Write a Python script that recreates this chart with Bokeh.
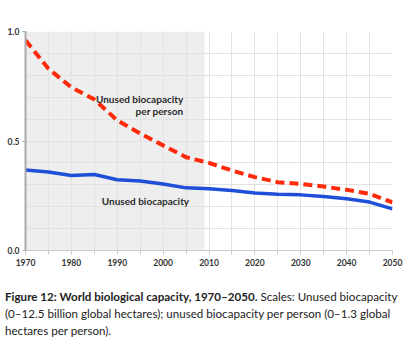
from bokeh.plotting import figure
from bokeh.models import FixedTicker, BoxAnnotation, Label, Div, CustomJSTickFormatter
from bokeh.layouts import column
from bokeh.embed import file_html
from bokeh.resources import INLINE

years = [1970, 1975, 1980, 1985, 1990, 1995, 2000, 2005, 2010,
         2015, 2020, 2025, 2030, 2035, 2040, 2045, 2050]
per_person = [0.96, 0.83, 0.745, 0.69, 0.594, 0.534, 0.48, 0.426, 0.400,
              0.365, 0.335, 0.312, 0.304, 0.292, 0.277, 0.259, 0.22]
unused = [0.368, 0.358, 0.342, 0.347, 0.323, 0.317, 0.304, 0.286, 0.282,
          0.274, 0.263, 0.257, 0.254, 0.247, 0.236, 0.221, 0.19]
x_labels = [1970, 1980, 1990, 2000, 2010, 2020, 2030, 2040, 2050]
y_labels = [0.0, 0.5, 1.0]
historic_end = 2009

p = figure(width=419, height=272, x_range=(1970, 2050), y_range=(0, 1.0),
           output_backend="svg", toolbar_location=None,
           min_border_left=25, min_border_right=27, min_border_top=31,
           min_border_bottom=22)
p.outline_line_color = None
p.background_fill_color = "white"

p.add_layout(BoxAnnotation(left=1970, right=historic_end, fill_color="#eeeeee",
                           fill_alpha=1, line_color=None, level="image"))

p.xgrid.ticker = FixedTicker(ticks=list(range(1970, 2051, 5)))
p.ygrid.ticker = FixedTicker(ticks=[i / 10 for i in range(11)])
p.xgrid.grid_line_color = "#e2e2e2"
p.ygrid.grid_line_color = "#e2e2e2"
p.xgrid.grid_line_width = 1
p.ygrid.grid_line_width = 1

p.xaxis.ticker = FixedTicker(ticks=x_labels, minor_ticks=list(range(1970, 2051, 5)))
p.yaxis.ticker = FixedTicker(ticks=y_labels)
p.yaxis.formatter = CustomJSTickFormatter(code="return tick.toFixed(1);")

for ax in (p.xaxis, p.yaxis):
    ax.major_label_text_font = "Lato"
    ax.major_label_text_font_style = "bold"
    ax.major_label_text_font_size = "8.5px"
    ax.major_label_text_color = "#333333"
    ax.major_tick_in = 0
    ax.minor_tick_in = 0

p.xaxis.axis_line_color = "#cccccc"
p.xaxis.major_tick_line_color = "#cccccc"
p.xaxis.minor_tick_line_color = "#cccccc"
p.xaxis.major_tick_out = 4
p.xaxis.minor_tick_out = 4
p.xaxis.major_label_standoff = 4
p.yaxis.axis_line_color = "#aaaaaa"
p.yaxis.axis_line_width = 2
p.yaxis.major_tick_line_color = "#aaaaaa"
p.yaxis.major_tick_out = 3
p.yaxis.minor_tick_line_color = None
p.yaxis.major_label_standoff = 3

p.line(years, per_person, line_color="#ff2a0a", line_width=4, line_dash="9 5")
p.line(years, unused, line_color="#1f4fd8", line_width=3.5)

lab_kw = dict(text_font="Lato", text_font_size="10px", text_color="#2a2a2a",
              text_font_style="bold", text_align="right", text_baseline="middle")
p.add_layout(Label(x=2004.4, y=0.69, text="Unused biocapacity", **lab_kw))
p.add_layout(Label(x=2004.4, y=0.636, text="per person", **lab_kw))
p.add_layout(Label(x=2006.2, y=0.227, text="Unused  biocapacity", **lab_kw))

caption = Div(text=(
    "<div style='font-family:Lato;font-size:11.6px;line-height:17px;color:#222;"
    "white-space:nowrap;margin:0;padding:0'>"
    "<b>Figure 12: World biological capacity, 1970–2050.</b> Scales: Unused biocapacity<br>"
    "(0–12.5 billion global hectares); unused biocapacity per person (0–1.3 global<br>"
    "hectares per person).</div>"), width=419, height=60,
    styles={"margin-left": "5px", "margin-top": "16px"})

layout = column(p, caption, spacing=0)
open("out.html", "w").write(file_html(layout, INLINE))
